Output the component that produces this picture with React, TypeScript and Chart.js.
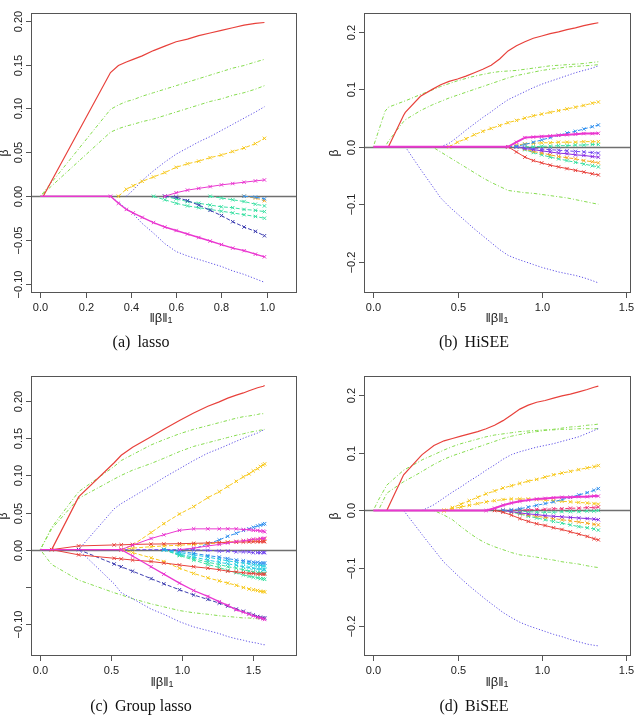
import React, { useEffect, useRef } from 'react';
import { Chart, registerables } from 'chart.js';

Chart.register(...registerables);

const _ = null;

// ---------------- (a) lasso ----------------
const lassoNorm = [0, 0.013, 0.31, 0.345, 0.38, 0.41, 0.45, 0.5, 0.55, 0.6, 0.65, 0.7, 0.75, 0.8, 0.85, 0.9, 0.95, 0.99];
const aRed = [_, 0, 0.141, 0.149, 0.153, 0.156, 0.16, 0.166, 0.171, 0.176, 0.179, 0.183, 0.186, 0.189, 0.192, 0.195, 0.197, 0.198];
const aGreen1 = [0, 0.004, 0.099, 0.104, 0.108, 0.11, 0.114, 0.118, 0.122, 0.126, 0.13, 0.134, 0.138, 0.142, 0.146, 0.149, 0.153, 0.156];
const aGreen2 = [0, 0.003, 0.073, 0.077, 0.08, 0.082, 0.085, 0.088, 0.092, 0.096, 0.1, 0.104, 0.108, 0.111, 0.115, 0.118, 0.122, 0.126];
const aBlueUp = [_, _, _, _, 0, 0.007, 0.018, 0.029, 0.039, 0.048, 0.055, 0.062, 0.068, 0.075, 0.082, 0.089, 0.096, 0.102];
const aBlueDown = [_, _, 0, -0.007, -0.014, -0.02, -0.031, -0.042, -0.054, -0.063, -0.068, -0.072, -0.076, -0.08, -0.085, -0.089, -0.094, -0.098];
const aMagDown = [0, 0, 0, -0.008, -0.015, -0.019, -0.024, -0.03, -0.035, -0.039, -0.043, -0.047, -0.051, -0.055, -0.059, -0.062, -0.066, -0.069];
const aMagUp = [_, _, _, _, _, _, _, _, 0, 0.004, 0.007, 0.009, 0.011, 0.013, 0.0145, 0.016, 0.0175, 0.0186];
const aYellow = [_, _, _, 0, 0.008, 0.012, 0.017, 0.022, 0.027, 0.033, 0.037, 0.04, 0.044, 0.047, 0.051, 0.055, 0.06, 0.066];
const aNavy = [_, _, _, _, _, _, _, _, 0, -0.001, -0.005, -0.01, -0.016, -0.022, -0.029, -0.035, -0.04, -0.045];
const aCyan1 = [_, _, _, _, _, _, _, 0, -0.004, -0.008, -0.011, -0.013, -0.015, -0.017, -0.019, -0.021, -0.023, -0.025];
const aCyan2 = [_, _, _, _, _, _, _, _, 0, -0.003, -0.006, -0.008, -0.01, -0.012, -0.013, -0.015, -0.016, -0.0175];
const aCyan3 = [_, _, _, _, _, _, _, _, _, _, _, _, 0, -0.002, -0.004, -0.006, -0.009, -0.011];
const aOrange = [_, _, _, _, _, _, _, _, _, _, _, _, _, _, _, 0, -0.002, -0.005];
const aDodger = [_, _, _, _, _, _, _, _, _, _, _, _, _, _, _, 0, -0.001, -0.003];

// ---------------- (b) HiSEE ----------------
const hiseeNorm = [0, 0.07, 0.09, 0.18, 0.19, 0.28, 0.35, 0.4, 0.45, 0.5, 0.55, 0.6, 0.65, 0.7, 0.75, 0.8, 0.85, 0.9, 0.95, 1.0, 1.05, 1.1, 1.15, 1.2, 1.25, 1.3, 1.336];
const bRed = [_, _, 0, 0.055, 0.06, 0.088, 0.1, 0.108, 0.114, 0.118, 0.123, 0.129, 0.135, 0.142, 0.153, 0.167, 0.176, 0.183, 0.189, 0.193, 0.197, 0.2, 0.204, 0.207, 0.211, 0.214, 0.216];
const bGreen1 = [0, 0.062, 0.069, 0.079, 0.08, 0.091, 0.099, 0.105, 0.11, 0.115, 0.119, 0.123, 0.126, 0.129, 0.131, 0.132, 0.133, 0.135, 0.137, 0.139, 0.141, 0.142, 0.143, 0.144, 0.145, 0.147, 0.148];
const bGreen2 = [_, 0, 0.01, 0.044, 0.047, 0.063, 0.073, 0.079, 0.085, 0.09, 0.095, 0.1, 0.105, 0.11, 0.115, 0.12, 0.124, 0.127, 0.13, 0.133, 0.135, 0.137, 0.139, 0.14, 0.141, 0.142, 0.143];
const bBlueUp = [_, _, _, _, _, _, _, 0, 0.006, 0.017, 0.029, 0.04, 0.051, 0.061, 0.072, 0.082, 0.089, 0.096, 0.103, 0.109, 0.114, 0.119, 0.124, 0.129, 0.133, 0.137, 0.141];
const bBlueDown = [_, _, _, _, 0, -0.039, -0.068, -0.089, -0.104, -0.117, -0.13, -0.143, -0.155, -0.167, -0.179, -0.189, -0.195, -0.2, -0.205, -0.21, -0.214, -0.218, -0.221, -0.224, -0.228, -0.233, -0.237];
const bGreenDown = [_, _, _, _, _, _, 0, -0.009, -0.018, -0.027, -0.036, -0.045, -0.054, -0.062, -0.069, -0.076, -0.078, -0.08, -0.081, -0.083, -0.085, -0.087, -0.089, -0.092, -0.095, -0.098, -0.1];
const bYellow = [_, _, _, _, _, _, _, _, 0, 0.008, 0.014, 0.021, 0.027, 0.032, 0.037, 0.042, 0.046, 0.05, 0.054, 0.057, 0.06, 0.063, 0.066, 0.069, 0.072, 0.076, 0.078];
const bMagenta = [0, 0, 0, 0, 0, 0, 0, 0, 0, 0, 0, 0, 0, 0, 0, 0, 0.008, 0.016, 0.017, 0.018, 0.019, 0.02, 0.021, 0.022, 0.023, 0.023, 0.0235];
const bRedDown = [_, _, _, _, _, _, _, _, _, _, _, _, _, _, _, 0, -0.009, -0.018, -0.024, -0.028, -0.032, -0.035, -0.038, -0.041, -0.044, -0.047, -0.049];
const bDodger = [_, _, _, _, _, _, _, _, _, _, _, _, _, _, _, 0, 0.001, 0.004, 0.008, 0.012, 0.016, 0.02, 0.024, 0.027, 0.031, 0.035, 0.038];
const bGold = [_, _, _, _, _, _, _, _, _, _, _, _, _, _, _, 0, 0.003, 0.005, 0.006, 0.007, 0.007, 0.008, 0.008, 0.008, 0.009, 0.009, 0.009];
const bSpring = [_, _, _, _, _, _, _, _, _, _, _, _, _, _, _, _, 0, -0.005, -0.01, -0.014, -0.018, -0.021, -0.024, -0.027, -0.03, -0.033, -0.035];
const bOrange = [_, _, _, _, _, _, _, _, _, _, _, _, _, _, _, _, 0, -0.004, -0.008, -0.011, -0.014, -0.017, -0.019, -0.021, -0.024, -0.026, -0.028];
const bPurple = [_, _, _, _, _, _, _, _, _, _, _, _, _, _, _, _, 0, -0.003, -0.005, -0.007, -0.009, -0.011, -0.012, -0.014, -0.015, -0.017, -0.018];
const bViolet = [_, _, _, _, _, _, _, _, _, _, _, _, _, _, _, _, 0, -0.002, -0.003, -0.004, -0.005, -0.006, -0.007, -0.008, -0.009, -0.01, -0.011];
const bTeal = [_, _, _, _, _, _, _, _, _, _, _, _, _, _, _, _, _, 0, 0, 0.001, 0.001, 0.002, 0.002, 0.003, 0.003, 0.004, 0.004];

// ---------------- (c) Group lasso ----------------
const groupNorm = [0, 0.08, 0.27, 0.52, 0.57, 0.65, 0.78, 0.87, 0.98, 1.08, 1.18, 1.26, 1.32, 1.38, 1.43, 1.47, 1.5, 1.53, 1.55, 1.57, 1.58];
const cRed = [_, 0, 0.071, 0.117, 0.127, 0.138, 0.152, 0.162, 0.174, 0.184, 0.193, 0.199, 0.204, 0.208, 0.211, 0.214, 0.216, 0.218, 0.219, 0.22, 0.221];
const cGreen1 = [0, 0.03, 0.078, 0.112, 0.12, 0.128, 0.141, 0.148, 0.156, 0.162, 0.167, 0.171, 0.174, 0.177, 0.179, 0.18, 0.181, 0.182, 0.183, 0.183, 0.184];
const cGreen2 = [0, 0.028, 0.069, 0.095, 0.1, 0.107, 0.116, 0.123, 0.132, 0.139, 0.144, 0.148, 0.151, 0.154, 0.156, 0.158, 0.159, 0.16, 0.161, 0.161, 0.162];
const cBlueUp = [_, _, 0, 0.055, 0.062, 0.071, 0.086, 0.097, 0.109, 0.12, 0.13, 0.136, 0.141, 0.146, 0.15, 0.153, 0.155, 0.157, 0.159, 0.161, 0.162];
const cGreenDown = [0, -0.02, -0.041, -0.058, -0.061, -0.066, -0.073, -0.077, -0.082, -0.085, -0.087, -0.089, -0.09, -0.091, -0.092, -0.092, -0.093, -0.093, -0.093, -0.094, -0.094];
const cBlueDown = [_, _, 0, -0.046, -0.058, -0.066, -0.08, -0.087, -0.097, -0.104, -0.109, -0.113, -0.117, -0.12, -0.122, -0.124, -0.125, -0.126, -0.127, -0.128, -0.128];
const cRedUp = [_, 0, 0.005, 0.0063, 0.0065, 0.007, 0.0075, 0.0077, 0.008, 0.0085, 0.009, 0.0095, 0.01, 0.01, 0.0103, 0.0105, 0.0106, 0.0107, 0.0108, 0.0108, 0.0108];
const cRedDown = [_, 0, -0.007, -0.0116, -0.0125, -0.014, -0.016, -0.018, -0.0206, -0.023, -0.025, -0.027, -0.029, -0.03, -0.031, -0.032, -0.032, -0.033, -0.033, -0.033, -0.033];
const cNavy = [_, _, 0, -0.0193, -0.023, -0.029, -0.039, -0.046, -0.054, -0.061, -0.067, -0.072, -0.076, -0.08, -0.083, -0.086, -0.088, -0.09, -0.091, -0.092, -0.092];
const cViolet = [0, 0, 0, 0, 0, 0, 0, 0, 0, 0, -0.001, -0.002, -0.002, -0.003, -0.003, -0.003, -0.004, -0.004, -0.004, -0.004, -0.004];
const cMagenta = [0, 0, 0, 0, 0, -0.0085, -0.023, -0.033, -0.045, -0.055, -0.063, -0.07, -0.075, -0.081, -0.084, -0.087, -0.089, -0.091, -0.092, -0.093, -0.094];
const cMagUp = [_, _, _, _, 0, 0.006, 0.015, 0.02, 0.026, 0.028, 0.028, 0.028, 0.028, 0.028, 0.027, 0.027, 0.026, 0.026, 0.025, 0.025, 0.024];
const cMagUp2 = [_, _, _, _, _, _, _, _, 0, 0.002, 0.005, 0.007, 0.009, 0.011, 0.012, 0.013, 0.014, 0.014, 0.015, 0.015, 0.0153];
const cYellowUp = [_, _, _, _, 0, 0.006, 0.023, 0.035, 0.048, 0.058, 0.07, 0.078, 0.085, 0.092, 0.098, 0.102, 0.106, 0.109, 0.112, 0.114, 0.1155];
const cYellowDown = [_, _, _, _, 0, -0.004, -0.011, -0.016, -0.025, -0.032, -0.038, -0.042, -0.045, -0.048, -0.051, -0.053, -0.054, -0.055, -0.056, -0.0565, -0.057];
const cGold = [_, _, _, _, 0, 0.002, 0.004, 0.005, 0.006, 0.007, 0.008, 0.009, 0.01, 0.011, 0.012, 0.012, 0.013, 0.013, 0.014, 0.014, 0.014];
const cDodgerUp = [_, _, _, _, _, _, _, _, 0, 0.001, 0.008, 0.013, 0.018, 0.022, 0.026, 0.028, 0.03, 0.032, 0.033, 0.034, 0.035];
const cDodgerDown = [_, _, _, _, _, _, _, 0, -0.002, -0.005, -0.008, -0.01, -0.012, -0.014, -0.015, -0.016, -0.017, -0.017, -0.018, -0.018, -0.018];
const cCyan1 = [_, _, _, _, _, _, _, 0, -0.004, -0.007, -0.01, -0.013, -0.015, -0.017, -0.018, -0.019, -0.02, -0.021, -0.021, -0.022, -0.022];
const cCyan2 = [_, _, _, _, _, _, _, 0, -0.006, -0.01, -0.014, -0.017, -0.019, -0.021, -0.023, -0.024, -0.025, -0.026, -0.026, -0.027, -0.027];
const cAqua = [_, _, _, _, _, _, _, 0, -0.007, -0.012, -0.017, -0.02, -0.023, -0.025, -0.027, -0.029, -0.03, -0.031, -0.031, -0.032, -0.032];
const cSpring = [_, _, _, _, _, _, _, 0, -0.008, -0.014, -0.02, -0.024, -0.028, -0.031, -0.034, -0.036, -0.037, -0.038, -0.039, -0.039, -0.04];

// ---------------- (d) BiSEE ----------------
const biseeNorm = [0, 0.03, 0.08, 0.18, 0.28, 0.29, 0.36, 0.42, 0.47, 0.52, 0.57, 0.62, 0.67, 0.72, 0.77, 0.82, 0.87, 0.92, 0.97, 1.02, 1.07, 1.12, 1.17, 1.22, 1.27, 1.31, 1.336];
const dRed = [_, _, 0, 0.062, 0.094, 0.097, 0.113, 0.121, 0.125, 0.129, 0.133, 0.137, 0.142, 0.148, 0.156, 0.166, 0.176, 0.183, 0.188, 0.191, 0.195, 0.199, 0.202, 0.206, 0.21, 0.214, 0.216];
const dGreen1 = [0, 0.018, 0.044, 0.07, 0.086, 0.088, 0.097, 0.105, 0.111, 0.116, 0.12, 0.124, 0.128, 0.131, 0.133, 0.135, 0.137, 0.138, 0.139, 0.14, 0.14, 0.141, 0.141, 0.142, 0.142, 0.142, 0.142];
const dGreen2 = [_, 0, 0.03, 0.05, 0.066, 0.068, 0.08, 0.089, 0.095, 0.1, 0.105, 0.11, 0.115, 0.12, 0.125, 0.129, 0.132, 0.135, 0.137, 0.139, 0.141, 0.143, 0.145, 0.146, 0.148, 0.149, 0.15];
const dBlueUp = [_, _, _, _, _, 0, 0.01, 0.022, 0.032, 0.041, 0.051, 0.06, 0.07, 0.079, 0.089, 0.097, 0.102, 0.106, 0.11, 0.113, 0.116, 0.12, 0.124, 0.128, 0.134, 0.139, 0.142];
const dBlueDown = [_, _, _, 0, -0.038, -0.042, -0.068, -0.09, -0.104, -0.118, -0.131, -0.143, -0.155, -0.166, -0.177, -0.186, -0.194, -0.2, -0.205, -0.21, -0.215, -0.219, -0.224, -0.228, -0.232, -0.234, -0.235];
const dGreenDown = [_, _, _, _, _, _, 0, -0.008, -0.016, -0.028, -0.039, -0.049, -0.057, -0.063, -0.068, -0.073, -0.077, -0.079, -0.081, -0.084, -0.086, -0.089, -0.091, -0.093, -0.096, -0.098, -0.099];
const dYellow = [_, _, _, _, _, _, _, 0, 0.005, 0.011, 0.017, 0.023, 0.029, 0.034, 0.039, 0.043, 0.047, 0.051, 0.054, 0.058, 0.062, 0.065, 0.068, 0.071, 0.074, 0.076, 0.078];
const dGold = [_, _, _, _, _, _, _, 0, 0.003, 0.006, 0.009, 0.012, 0.015, 0.017, 0.019, 0.02, 0.02, 0.02, 0.019, 0.018, 0.017, 0.016, 0.015, 0.014, 0.013, 0.012, 0.011];
const dMagenta = [0, 0, 0, 0, 0, 0, 0, 0, 0, 0, 0, 0, 0, 0.004, 0.009, 0.013, 0.016, 0.018, 0.02, 0.021, 0.022, 0.023, 0.023, 0.024, 0.024, 0.025, 0.025];
const dRedDown = [_, _, _, _, _, _, _, _, _, _, _, _, _, 0, -0.003, -0.008, -0.014, -0.019, -0.023, -0.026, -0.03, -0.033, -0.037, -0.041, -0.045, -0.049, -0.051];
const dDodger = [_, _, _, _, _, _, _, _, _, _, _, _, _, _, 0, 0.001, 0.003, 0.006, 0.009, 0.012, 0.015, 0.019, 0.023, 0.027, 0.031, 0.035, 0.038];
const dSpring = [_, _, _, _, _, _, _, _, _, _, _, _, _, _, 0, -0.003, -0.006, -0.01, -0.013, -0.016, -0.019, -0.022, -0.025, -0.028, -0.03, -0.032, -0.034];
const dOrange = [_, _, _, _, _, _, _, _, _, _, _, _, _, _, 0, -0.002, -0.005, -0.008, -0.01, -0.012, -0.014, -0.016, -0.018, -0.02, -0.022, -0.024, -0.025];
const dPurple = [_, _, _, _, _, _, _, _, _, _, _, _, _, _, 0, -0.002, -0.004, -0.006, -0.007, -0.009, -0.01, -0.011, -0.012, -0.013, -0.014, -0.015, -0.016];
const dTeal = [_, _, _, _, _, _, _, _, _, _, _, _, _, _, _, 0, -0.001, -0.002, -0.003, -0.003, -0.003, -0.002, -0.002, -0.002, -0.001, -0.001, 0];
const dPink = [_, _, _, _, _, _, _, _, _, _, _, _, _, _, _, 0, 0.001, 0.001, 0.002, 0.002, 0.003, 0.003, 0.004, 0.004, 0.005, 0.005, 0.006];

// ---------------- tick labels ----------------
const xTicksA = [0, 0.2, 0.4, 0.6, 0.8, 1.0];
const xLabelsA = ['0.0', '0.2', '0.4', '0.6', '0.8', '1.0'];
const yTicksA = [-0.1, -0.05, 0, 0.05, 0.1, 0.15, 0.2];
const yLabelsA = ['\u22120.10', '\u22120.05', '0.00', '0.05', '0.10', '0.15', '0.20'];
const xTicksB = [0, 0.5, 1.0, 1.5];
const xLabelsB = ['0.0', '0.5', '1.0', '1.5'];
const yTicksB = [-0.2, -0.1, 0, 0.1, 0.2];
const yLabelsB = ['\u22120.2', '\u22120.1', '0.0', '0.1', '0.2'];
const yTicksC = [-0.1, -0.05, 0, 0.05, 0.1, 0.15, 0.2];
const yLabelsC = ['\u22120.10', '', '0.00', '0.05', '0.10', '0.15', '0.20'];

// ---------------- styles ----------------
const RED = '#e8413b';
const GREEN = '#86dc4f';
const BLUE = '#5f52e6';
const GOLD = '#f7c81c';
const MAGENTA = '#ea37d0';
const SPRING = '#38e0a2';
const CYAN = '#24cde0';
const DODGER = '#2f8fee';
const PURPLE = '#8a2be2';
const ORANGE = '#f5a623';
const NAVY = '#3d3db0';
const VIOLET = '#7448f0';
const PINK = '#f0307a';

const SOLID: number[] = [];
const DASH = [4, 2];
const DOT = [1.2, 1.8];
const DOTDASH = [1, 2, 3.5, 2];

type S = { y: (number | null)[]; color: string; dash: number[]; marker?: boolean; width?: number };
const s = (y: (number | null)[], color: string, dash: number[], marker = false, width = 1): S => ({ y, color, dash, marker, width });

const panels = [
  {
    left: 0, top: 0, w: 320, h: 352,
    pad: { left: 31, top: 13, right: 23, bottom: 59 },
    xr: [-0.0411, 1.1338], yr: [-0.1102, 0.2088],
    xs: lassoNorm,
    xTicks: xTicksA, xLabels: xLabelsA, yTicks: yTicksA, yLabels: yLabelsA,
    xTitleX: 161, xTitleY: 318, yTitleX: 5, cap: ['(a)', 'lasso'], capX: 141, capY: 343,
    series: [
      s(aGreen1, GREEN, DOTDASH), s(aGreen2, GREEN, DOTDASH),
      s(aBlueUp, BLUE, DOT), s(aBlueDown, BLUE, DOT),
      s(aRed, RED, SOLID, false, 1.2),
      s(aYellow, GOLD, DASH, true),
      s(aCyan1, SPRING, DASH, true), s(aCyan2, SPRING, DASH, true), s(aCyan3, SPRING, DASH, true),
      s(aNavy, NAVY, DASH, true),
      s(aOrange, ORANGE, DASH, true), s(aDodger, DODGER, DASH, true),
      s(aMagUp, MAGENTA, SOLID, true), s(aMagDown, MAGENTA, SOLID, true, 1.4),
    ],
  },
  {
    left: 320, top: 0, w: 319, h: 352,
    pad: { left: 44, top: 13, right: 8, bottom: 59 },
    xr: [-0.0552, 1.53], yr: [-0.2546, 0.233],
    xs: hiseeNorm,
    xTicks: xTicksB, xLabels: xLabelsB, yTicks: yTicksB, yLabels: yLabelsB,
    xTitleX: 177, xTitleY: 318, yTitleX: 15, cap: ['(b)', 'HiSEE'], capX: 154, capY: 343,
    series: [
      s(bGreen1, GREEN, DOTDASH), s(bGreen2, GREEN, DOTDASH), s(bGreenDown, GREEN, DOTDASH),
      s(bBlueUp, BLUE, DOT), s(bBlueDown, BLUE, DOT),
      s(bRed, RED, SOLID, false, 1.2),
      s(bYellow, GOLD, DASH, true), s(bGold, GOLD, DASH, true),
      s(bSpring, SPRING, DASH, true), s(bOrange, ORANGE, DASH, true), s(bPurple, PURPLE, SOLID, true),
      s(bViolet, VIOLET, DASH, true), s(bTeal, SPRING, DASH, true),
      s(bDodger, DODGER, DASH, true), s(bRedDown, RED, SOLID, true),
      s(bMagenta, MAGENTA, SOLID, true, 2),
    ],
  },
  {
    left: 0, top: 356, w: 320, h: 364,
    pad: { left: 31, top: 20, right: 23, bottom: 64 },
    xr: [-0.0655, 1.8077], yr: [-0.1432, 0.2338],
    xs: groupNorm,
    xTicks: xTicksB, xLabels: xLabelsB, yTicks: yTicksC, yLabels: yLabelsC,
    xTitleX: 162, xTitleY: 326, yTitleX: 4, cap: ['(c)', 'Group lasso'], capX: 141, capY: 351,
    series: [
      s(cGreen1, GREEN, DOTDASH), s(cGreen2, GREEN, DOTDASH), s(cGreenDown, GREEN, DOTDASH),
      s(cBlueUp, BLUE, DOT), s(cBlueDown, BLUE, DOT),
      s(cRed, RED, SOLID, false, 1.2),
      s(cViolet, VIOLET, DASH, true),
      s(cSpring, SPRING, DASH, true), s(cAqua, SPRING, DASH, true), s(cCyan2, CYAN, DASH, true),
      s(cCyan1, CYAN, DASH, true), s(cDodgerDown, DODGER, DASH, true), s(cDodgerUp, DODGER, DASH, true),
      s(cYellowUp, GOLD, DASH, true), s(cYellowDown, GOLD, DASH, true), s(cGold, GOLD, DASH, true),
      s(cNavy, NAVY, DASH, true),
      s(cRedUp, RED, SOLID, true), s(cRedDown, RED, SOLID, true),
      s(cMagUp2, MAGENTA, SOLID, true), s(cMagUp, MAGENTA, SOLID, true),
      s(cMagenta, MAGENTA, SOLID, true, 1.3),
    ],
  },
  {
    left: 320, top: 356, w: 319, h: 364,
    pad: { left: 44, top: 20, right: 8, bottom: 64 },
    xr: [-0.0552, 1.53], yr: [-0.2526, 0.2335],
    xs: biseeNorm,
    xTicks: xTicksB, xLabels: xLabelsB, yTicks: yTicksB, yLabels: yLabelsB,
    xTitleX: 177, xTitleY: 326, yTitleX: 15, cap: ['(d)', 'BiSEE'], capX: 154, capY: 351,
    series: [
      s(dGreen1, GREEN, DOTDASH), s(dGreen2, GREEN, DOTDASH), s(dGreenDown, GREEN, DOTDASH),
      s(dBlueUp, BLUE, DOT), s(dBlueDown, BLUE, DOT),
      s(dRed, RED, SOLID, false, 1.2),
      s(dYellow, GOLD, DASH, true), s(dGold, GOLD, DASH, true),
      s(dSpring, SPRING, DASH, true), s(dOrange, ORANGE, DASH, true), s(dPurple, PURPLE, SOLID, true),
      s(dTeal, SPRING, DASH, true), s(dPink, PINK, DASH, true),
      s(dDodger, DODGER, DASH, true), s(dRedDown, RED, SOLID, true),
      s(dMagenta, MAGENTA, SOLID, true, 2),
    ],
  },
];

const SANS = '"Liberation Sans", Arial, Helvetica, sans-serif';
const SERIF = '"Liberation Serif", "Times New Roman", serif';

const rFrame = {
  id: 'rFrame',
  beforeDatasetsDraw(chart: any) {
    const { ctx, chartArea: a, scales } = chart;
    const py = Math.round(scales.y.getPixelForValue(0)) + 0.5;
    ctx.save();
    ctx.strokeStyle = '#6f6f6f';
    ctx.lineWidth = 1.4;
    ctx.beginPath();
    ctx.moveTo(a.left, py);
    ctx.lineTo(a.right, py);
    ctx.stroke();
    ctx.restore();
  },
  afterDraw(chart: any, _args: any, o: any) {
    const { ctx, chartArea: a, scales } = chart;
    ctx.save();
    ctx.strokeStyle = '#555';
    ctx.lineWidth = 1;
    ctx.strokeRect(a.left + 0.5, a.top + 0.5, a.right - a.left - 1, a.bottom - a.top - 1);
    ctx.fillStyle = '#222';
    ctx.font = `11px ${SANS}`;
    // x axis
    ctx.textAlign = 'center';
    ctx.textBaseline = 'alphabetic';
    o.xTicks.forEach((v: number, i: number) => {
      const px = Math.round(scales.x.getPixelForValue(v)) + 0.5;
      ctx.beginPath();
      ctx.moveTo(px, a.bottom);
      ctx.lineTo(px, a.bottom + 5);
      ctx.stroke();
      ctx.fillText(o.xLabels[i], px, a.bottom + 18);
    });
    // y axis
    o.yTicks.forEach((v: number, i: number) => {
      const py = Math.round(scales.y.getPixelForValue(v)) + 0.5;
      ctx.beginPath();
      ctx.moveTo(a.left - 5, py);
      ctx.lineTo(a.left, py);
      ctx.stroke();
      if (o.yLabels[i]) {
        ctx.save();
        ctx.translate(a.left - 9.5, py);
        ctx.rotate(-Math.PI / 2);
        ctx.textAlign = 'center';
        ctx.textBaseline = 'alphabetic';
        ctx.fillText(o.yLabels[i], 0, 0);
        ctx.restore();
      }
    });
    // x title ||beta||_1
    ctx.font = `13px ${SANS}`;
    const main = '\u2016\u03b2\u2016';
    const wMain = ctx.measureText(main).width;
    ctx.font = `9px ${SANS}`;
    const wSub = ctx.measureText('1').width;
    const x0 = o.xTitleX - (wMain + wSub) / 2;
    ctx.textAlign = 'left';
    ctx.textBaseline = 'middle';
    ctx.font = `13px ${SANS}`;
    ctx.fillText(main, x0, o.xTitleY);
    ctx.font = `9px ${SANS}`;
    ctx.fillText('1', x0 + wMain, o.xTitleY + 3);
    // y title
    ctx.save();
    ctx.translate(o.yTitleX, (a.top + a.bottom) / 2);
    ctx.rotate(-Math.PI / 2);
    ctx.font = `12px ${SANS}`;
    ctx.textAlign = 'center';
    ctx.textBaseline = 'middle';
    ctx.fillText('\u03b2', 0, 0);
    ctx.restore();
    // caption
    ctx.font = `16px ${SERIF}`;
    ctx.fillStyle = '#111';
    const w1 = ctx.measureText(o.cap[0]).width;
    const w2 = ctx.measureText(o.cap[1]).width;
    const gap = 7;
    const cx0 = o.capX - (w1 + gap + w2) / 2;
    ctx.textAlign = 'left';
    ctx.textBaseline = 'middle';
    ctx.fillText(o.cap[0], cx0, o.capY);
    ctx.fillText(o.cap[1], cx0 + w1 + gap, o.capY);
    ctx.restore();
  },
};

function Panel({ p }: { p: any }) {
  const ref = useRef<HTMLCanvasElement>(null);
  useEffect(() => {
    const n = p.series.length;
    const datasets = p.series.map((sr: S, i: number) => {
      const pts = p.xs
        .map((x: number, j: number) => ({ x, y: sr.y[j] }))
        .filter((pt: any) => pt.y !== null && pt.y !== undefined);
      const radii = pts.map((pt: any, j: number) => {
        if (!sr.marker) return 0;
        const next = pts[j + 1];
        return pt.y === 0 && next && next.y === 0 ? 0 : 2.4;
      });
      return {
        data: pts,
        borderColor: sr.color,
        backgroundColor: sr.color,
        borderWidth: sr.width,
        borderDash: sr.dash,
        pointStyle: 'crossRot',
        pointRadius: radii,
        pointBorderColor: sr.color,
        pointBorderWidth: 1,
        fill: false,
        tension: 0,
        order: n - i,
      };
    });
    const chart = new Chart(ref.current as HTMLCanvasElement, {
      type: 'line',
      data: { datasets },
      options: {
        animation: false,
        responsive: false,
        maintainAspectRatio: false,
        events: [],
        layout: { padding: p.pad },
        plugins: {
          legend: { display: false },
          tooltip: { enabled: false },
          rFrame: {
            xTicks: p.xTicks, xLabels: p.xLabels, yTicks: p.yTicks, yLabels: p.yLabels,
            xTitleX: p.xTitleX, xTitleY: p.xTitleY, yTitleX: p.yTitleX,
            cap: p.cap, capX: p.capX, capY: p.capY,
          },
        } as any,
        scales: {
          x: { type: 'linear', min: p.xr[0], max: p.xr[1], display: false },
          y: { type: 'linear', min: p.yr[0], max: p.yr[1], display: false },
        },
      },
      plugins: [rFrame],
    } as any);
    return () => chart.destroy();
  }, [p]);
  return (
    <canvas
      ref={ref}
      width={p.w}
      height={p.h}
      style={{ position: 'absolute', left: p.left, top: p.top, width: p.w, height: p.h }}
    />
  );
}

export default function App() {
  return (
    <div style={{ position: 'absolute', left: 0, top: 0, width: 639, height: 720, background: '#fff' }}>
      {panels.map((p, i) => (
        <Panel key={i} p={p} />
      ))}
    </div>
  );
}
